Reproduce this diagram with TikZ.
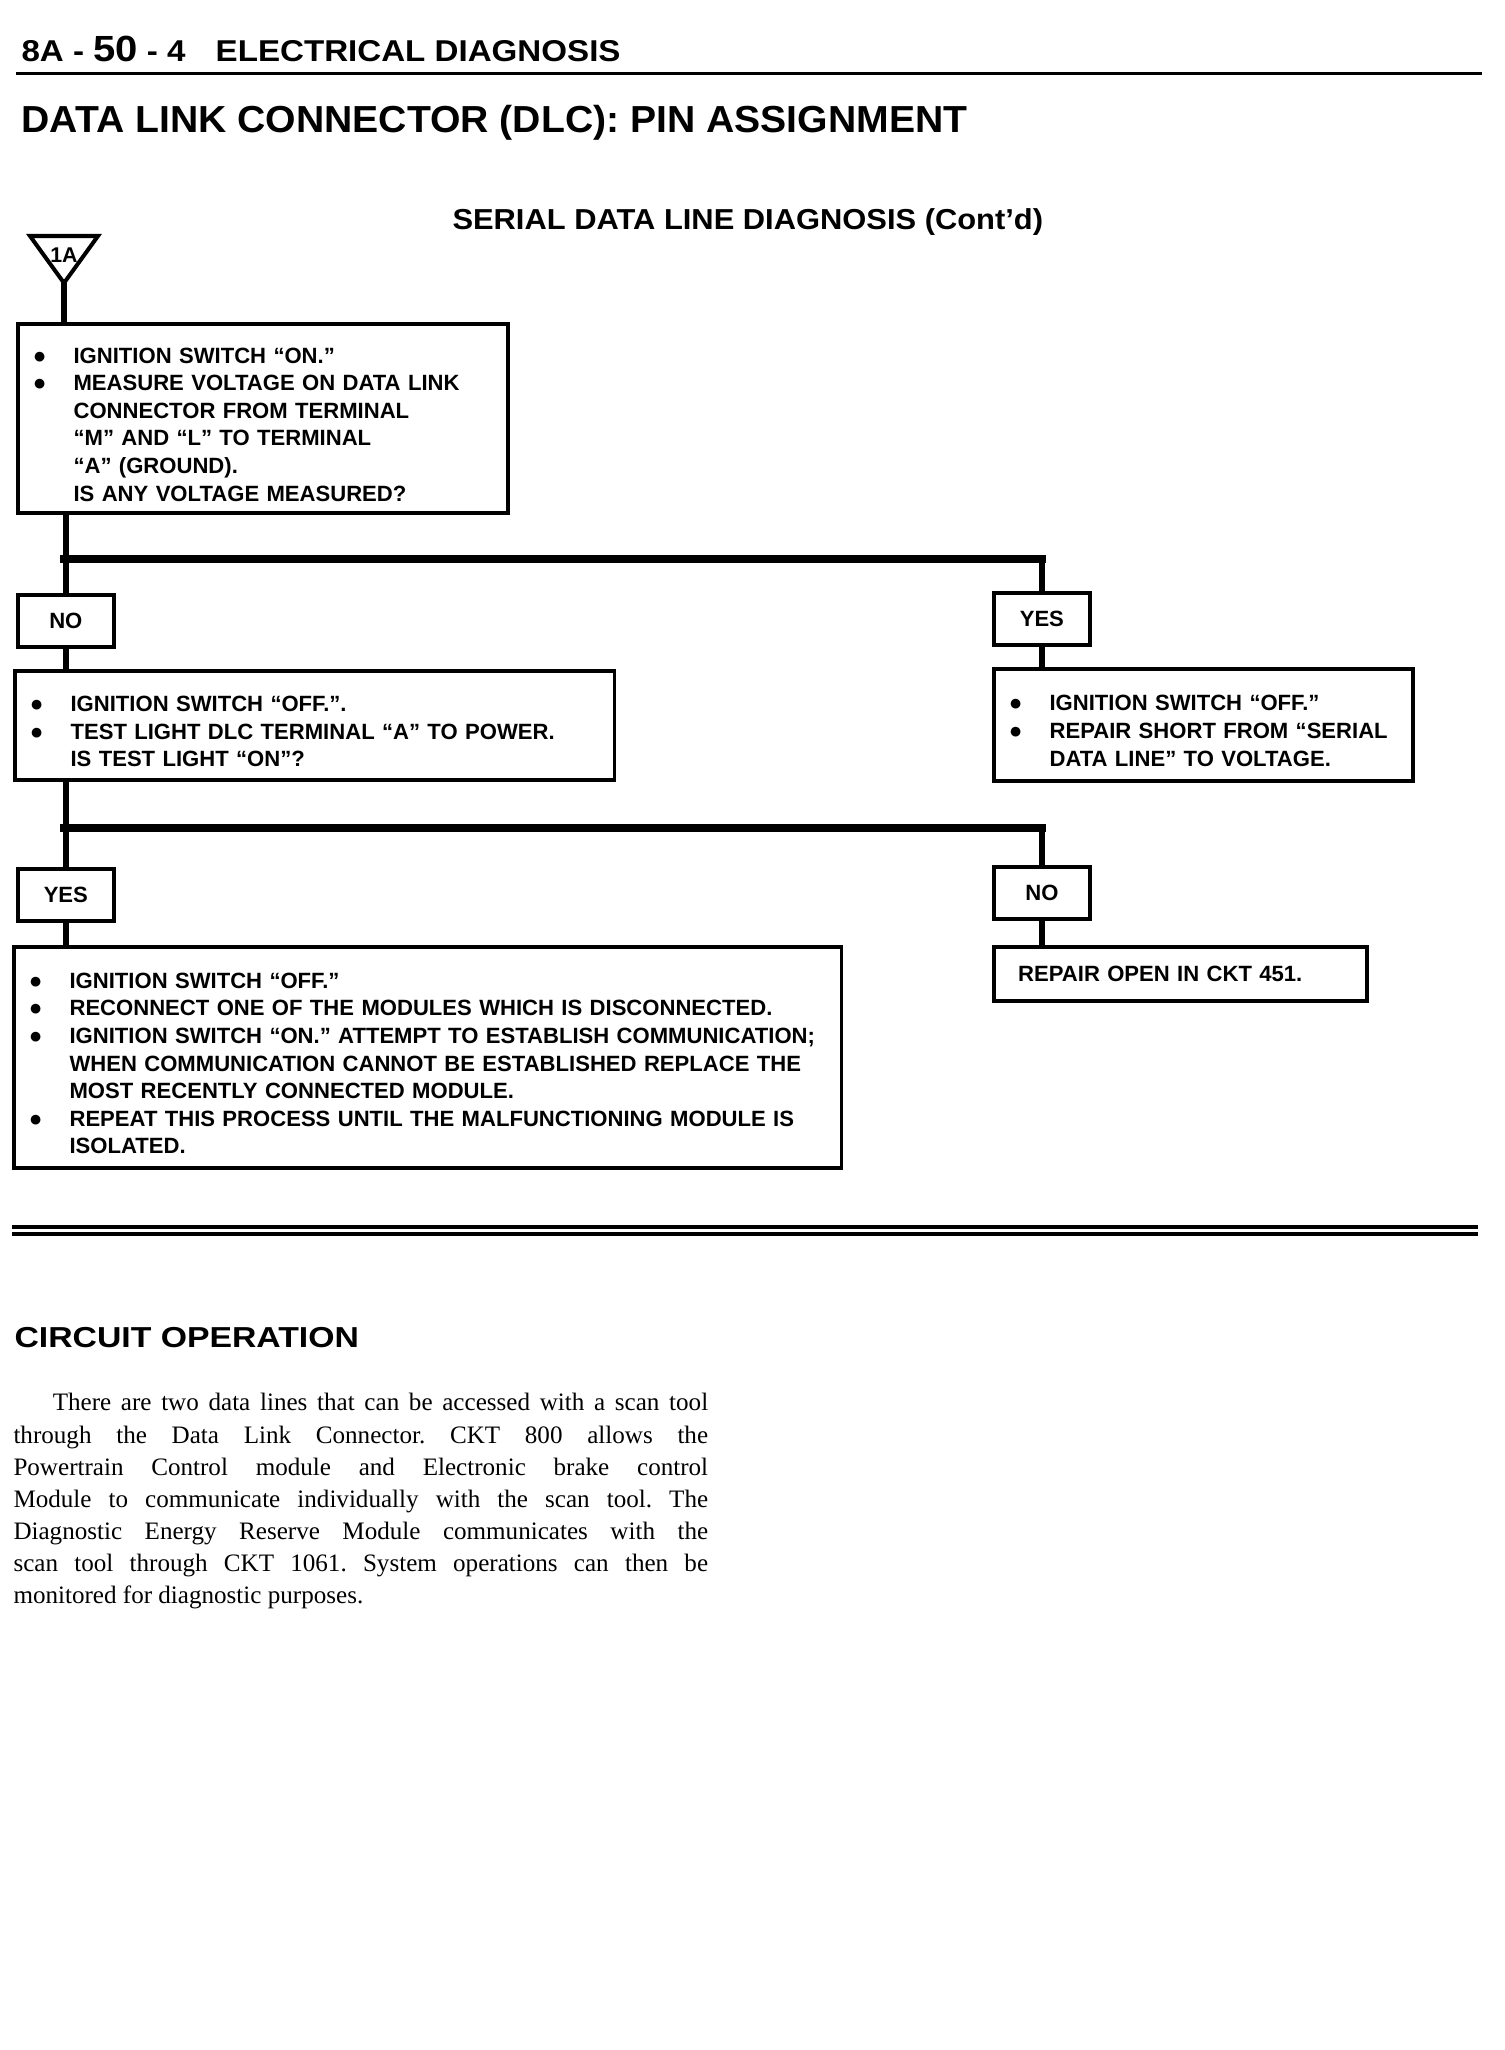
\documentclass[tikz,border=0pt]{standalone}
\usepackage{fontspec}
\setmainfont{Liberation Serif}
\setsansfont{Liberation Sans}
\usetikzlibrary{positioning}
\newcommand{\bigdot}{{\fontsize{9}{9}\selectfont ●}}
\newcommand{\itm}{\par\hangindent=0.62cm\hangafter=1\noindent\makebox[0.62cm][l]{\hspace{0.05cm}\bigdot}}

\begin{document}
\begin{tikzpicture}[x=0.014cm, y=-0.014cm,
    box/.style={draw, line width=1.5pt, anchor=north west, inner xsep=0.16cm, inner ysep=0pt, align=left, font=\sffamily\bfseries\fontsize{8.8}{11}\selectfont},
    tag/.style={draw, line width=1.5pt, anchor=north west, minimum width=1.344cm, minimum height=0.728cm, inner sep=0pt, font=\sffamily\bfseries\fontsize{8.8}{11}\selectfont},
    head/.style={anchor=base west, inner sep=0pt, font=\sffamily\bfseries},
    link/.style={line width=2.6pt},
    bus/.style={line width=3.2pt, line cap=rect}]
    \useasboundingbox (0,0) rectangle (1504,2050);

    % 页眉
    \node[head, font=\sffamily\bfseries\fontsize{12}{14}\selectfont\addfontfeatures{FakeStretch=1.1}] (pg) at (21,62) {8A - {\fontsize{14.5}{16}\selectfont 50} - 4\hspace{12pt}ELECTRICAL DIAGNOSIS};
    \draw[line width=1.2pt] (16,74) -- (1482,74);
    \node[head, font=\sffamily\bfseries\fontsize{15}{17}\selectfont\addfontfeatures{FakeStretch=1.04}] (ttl) at (21,133) {DATA LINK CONNECTOR (DLC): PIN ASSIGNMENT};
    \node[head, font=\sffamily\bfseries\fontsize{11.5}{14}\selectfont\addfontfeatures{FakeStretch=1.07}] (sub) at (452,230) {SERIAL DATA LINE DIAGNOSIS (Cont’d)};

    % 入口三角
    \coordinate (apex) at (64,283);
    \draw[line width=1.6pt, line join=miter] (30,236) -- (98,236) -- (apex) -- cycle;
    \node[font=\sffamily\bfseries\fontsize{8.5}{10}\selectfont, inner sep=0pt] (lbl) at (64,255) {1A};

    % 流程框
    \node[box, text width=6.54cm, minimum height=2.646cm] (q1) at (16,322) {%
        \itm IGNITION SWITCH “ON.”
        \itm MEASURE VOLTAGE ON DATA LINK\newline CONNECTOR FROM TERMINAL\newline “M” AND “L” TO TERMINAL\newline “A” (GROUND).\newline IS ANY VOLTAGE MEASURED?\par};
    \node[tag] (no1) at (16,593) {NO};
    \node[tag] (yes1) at (992,591) {YES};
    \node[box, text width=8.08cm, minimum height=1.526cm] (q2) at (13,669) {%
        \itm IGNITION SWITCH “OFF.”.
        \itm TEST LIGHT DLC TERMINAL “A” TO POWER.\newline IS TEST LIGHT “ON”?\par};
    \node[box, text width=5.546cm, minimum height=1.568cm] (fix1) at (992,667) {%
        \itm IGNITION SWITCH “OFF.”
        \itm REPAIR SHORT FROM “SERIAL\newline DATA LINE” TO VOLTAGE.\par};
    \node[tag] (yes2) at (16,867) {YES};
    \node[tag] (no2) at (992,865) {NO};
    \node[box, text width=11.272cm, minimum height=3.094cm] (q3) at (12,945) {%
        \itm IGNITION SWITCH “OFF.”
        \itm RECONNECT ONE OF THE MODULES WHICH IS DISCONNECTED.
        \itm IGNITION SWITCH “ON.” ATTEMPT TO ESTABLISH COMMUNICATION;\newline WHEN COMMUNICATION CANNOT BE ESTABLISHED REPLACE THE\newline MOST RECENTLY CONNECTED MODULE.
        \itm REPEAT THIS PROCESS UNTIL THE MALFUNCTIONING MODULE IS\newline ISOLATED.\par};
    \node[box, inner xsep=0.34cm, text width=4.542cm, minimum height=0.756cm] (fix2) at (992,945) {REPAIR OPEN IN CKT 451.};

    % 连线
    \coordinate (j1) at (64,559);
    \coordinate (j2) at (64,828);
    \draw[link] (apex) -- (apex |- q1.north);
    \draw[link] (q1.south -| no1.north) -- (no1.north);
    \draw[bus] (j1) -- (j1 -| yes1.north);
    \draw[link] (j1 -| yes1.north) -- (yes1.north);
    \draw[link] (no1.south) -- (no1.south |- q2.north);
    \draw[link] (yes1.south) -- (yes1.south |- fix1.north);
    \draw[link] (q2.south -| yes2.north) -- (yes2.north);
    \draw[bus] (j2) -- (j2 -| no2.north);
    \draw[link] (j2 -| no2.north) -- (no2.north);
    \draw[link] (yes2.south) -- (yes2.south |- q3.north);
    \draw[link] (no2.south) -- (no2.south |- fix2.north);

    % 分隔线
    \draw[line width=1.4pt] (12,1227) -- (1478,1227);
    \draw[line width=1.4pt] (12,1234) -- (1478,1234);

    % 电路说明
    \node[head, font=\sffamily\bfseries\fontsize{11.5}{14}\selectfont\addfontfeatures{FakeStretch=1.17}] (cop) at (14,1347) {CIRCUIT OPERATION};
    \node[anchor=north west, text width=9.73cm, align=justify, inner sep=0pt, font=\rmfamily\fontsize{10}{12.8}\selectfont\frenchspacing] (para) at (13,1393) {%
        \hspace*{0.55cm}There are two data lines that can be accessed with a scan tool\linebreak
        through the Data Link Connector. CKT 800 allows the\linebreak
        Powertrain Control module and Electronic brake control\linebreak
        Module to communicate individually with the scan tool. The\linebreak
        Diagnostic Energy Reserve Module communicates with the\linebreak
        scan tool through CKT 1061. System operations can then be\linebreak
        monitored for diagnostic purposes.\par};
\end{tikzpicture}
\end{document}
